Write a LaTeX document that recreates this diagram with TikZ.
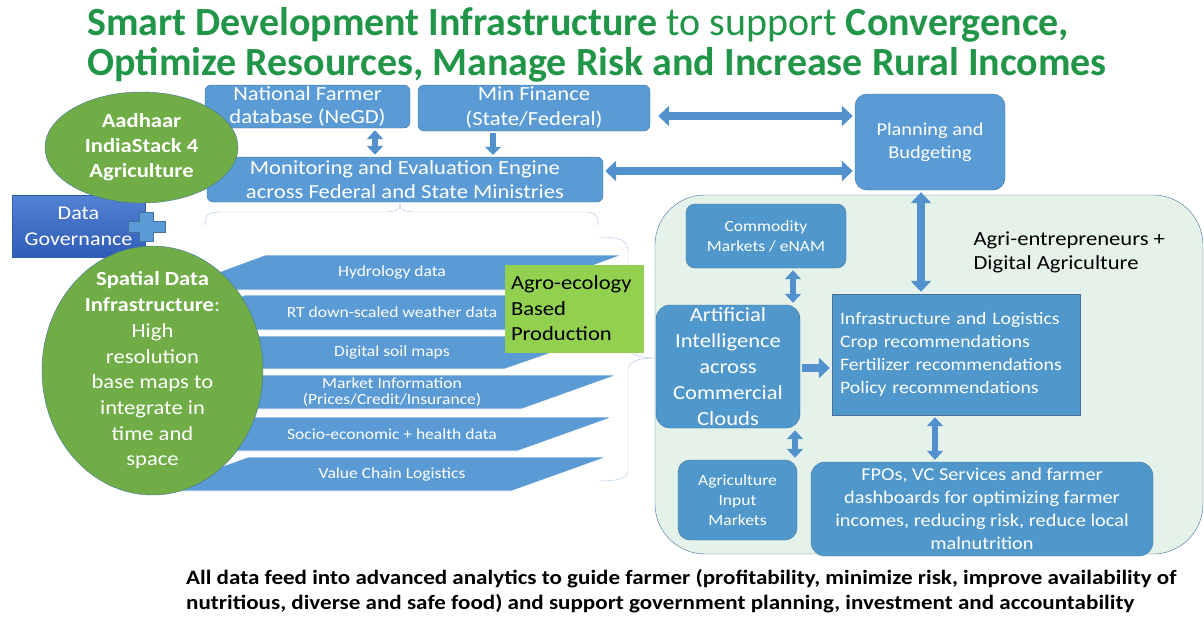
\documentclass[tikz,border=0pt]{standalone}
\usepackage{fontspec}
\setmainfont{Carlito}[FakeStretch=1.13]
\newfontfamily\titlefont{Carlito}
\usetikzlibrary{arrows.meta, calc, positioning, shapes.geometric}
\definecolor{boxblue}{RGB}{91,155,213}
\definecolor{boxline}{RGB}{65,113,156}
\definecolor{innerblue}{RGB}{80,152,203}
\definecolor{arrowblue}{RGB}{82,145,205}
\definecolor{leafgreen}{RGB}{112,173,71}
\definecolor{limegreen}{RGB}{146,208,80}
\definecolor{titlegreen}{RGB}{34,150,72}
\definecolor{palegreen}{RGB}{228,242,233}
\definecolor{bracecol}{RGB}{165,195,228}
\definecolor{govtop}{RGB}{84,130,212}
\definecolor{govbot}{RGB}{47,92,182}
\tikzset{>=latex}
\tikzset{
  bluebox/.style={draw=boxline, fill=boxblue, rounded corners=6pt, text=white, align=center, inner sep=1pt},
  innerbox/.style={bluebox, fill=innerblue},
  greenoval/.style={ellipse, draw=boxline, fill=leafgreen, inner sep=0pt},
  ovaltext/.style={text=white, align=center, inner sep=0pt},
  bartext/.style={text=white, align=center, font=\fontsize{15.5}{18}\selectfont},
  databar/.style={fill=boxblue, draw=white, line width=0.8pt},
  fatarrow/.style={draw=arrowblue, line width=8pt, -{Triangle[width=20pt,length=11pt]}, shorten <=2pt, shorten >=2pt},
  fatboth/.style={fatarrow, {Triangle[width=20pt,length=11pt]}-{Triangle[width=20pt,length=11pt]}},
  slimboth/.style={draw=arrowblue, line width=6.5pt, {Triangle[width=16pt,length=9pt]}-{Triangle[width=16pt,length=9pt]}, shorten <=2pt, shorten >=2pt},
}

\begin{document}
\begin{tikzpicture}[x=1pt, y=-1pt]
\useasboundingbox (0,0) rectangle (1204,616);
\node[anchor=base west, text=titlegreen, inner sep=0pt, font=\titlefont\fontsize{40}{38}\selectfont] (title1) at (87,35)
  {\textbf{Smart Development Infrastructure} to support \textbf{Convergence,}};
\node[anchor=base west, text=titlegreen, inner sep=0pt, font=\titlefont\fontsize{40}{38}\selectfont\bfseries] (title2) at (87,75)
  {Optimize Resources, Manage Risk and Increase Rural Incomes};

\draw[draw=boxline, fill=palegreen, rounded corners=50pt] (655,195) rectangle (1203,554);

\foreach \yt/\yb/\xl/\xr/\lbl in {255/290/265/622/Hydrology data, 295/330/245/605/RT down-scaled weather data,
    336/369/245/600/Digital soil maps, 375/409/245/617/{Market Information\\[-2pt](Prices/Credit/Insurance)},
    417/451/245/613/Socio-economic + health data, 457/491/248/607/Value Chain Logistics}{
  \filldraw[databar] (\xl,\yt) -- (\xr,\yt) -- (\xr-95,\yb) -- (\xl-95,\yb) -- cycle;
  \node[bartext] (bar\yt) at (392,{(\yt+\yb)/2}) {\lbl};
}

\node[bluebox, minimum width=205pt, minimum height=43pt, font=\fontsize{20}{23}\selectfont] (negd) at (307.5,106.5) {National Farmer\\database (NeGD)};
\node[bluebox, minimum width=232pt, minimum height=46pt, font=\fontsize{20}{25}\selectfont] (minfin) at (534,108) {Min Finance\\(State/Federal)};
\node[bluebox, minimum width=396pt, minimum height=45pt, font=\fontsize{20}{24}\selectfont] (me) at (405,179.5) {Monitoring and Evaluation Engine\\across Federal and State Ministries};
\node[bluebox, rounded corners=12pt, minimum width=150pt, minimum height=96pt, font=\fontsize{18}{23}\selectfont] (plan) at (930,142) {Planning and\\Budgeting};

\draw[bracecol] (205,226) .. controls (205,215) and (208,212) .. (220,212) -- (385,212)
  .. controls (396,212) and (400,210) .. (400,204) .. controls (400,210) and (404,212) .. (415,212)
  -- (585,212) .. controls (595,212) and (598,215) .. (598,226);
\draw[bracecol] (598,237) .. controls (620,237) and (628,240) .. (628,252) -- (628,346)
  .. controls (628,355) and (640,358) .. (655,358) .. controls (640,358) and (628,361) .. (628,370)
  -- (628,470) .. controls (628,478) and (620,481) .. (598,481);

\node[draw=limegreen, fill=limegreen, align=left, minimum width=138pt, minimum height=87pt, text width=126pt, font=\fontsize{20}{25.5}\selectfont] (agro) at (574,308.5) {Agro-ecology\\Based\\Production};

\node[innerbox, rounded corners=9pt, minimum width=160pt, minimum height=64pt, font=\fontsize{15.5}{20}\selectfont] (comm) at (766,236) {Commodity\\Markets / eNAM};
\node[innerbox, rounded corners=14pt, minimum width=144pt, minimum height=123pt, font=\fontsize{20}{26}\selectfont] (ai) at (728,366.5) {Artificial\\Intelligence\\across\\Commercial\\Clouds};
\node[innerbox, rounded corners=0pt, minimum width=248pt, minimum height=121pt, align=left, text width=232pt, font=\fontsize{17.5}{23}\selectfont] (infra) at (956,354.5) {Infrastructure and Logistics\\Crop recommendations\\Fertilizer recommendations\\Policy recommendations};
\node[innerbox, rounded corners=12pt, minimum width=119pt, minimum height=80pt, font=\fontsize{15.5}{20}\selectfont] (input) at (737.5,500) {Agriculture\\Input\\Markets};
\node[innerbox, rounded corners=14pt, minimum width=342pt, minimum height=94pt, font=\fontsize{18}{23}\selectfont] (fpo) at (982,509) {FPOs, VC Services and farmer\\dashboards for optimizing farmer\\incomes, reducing risk, reduce local\\malnutrition};
\node[anchor=west, align=left, font=\fontsize{20}{24}\selectfont] (agri) at (970,252) {Agri-entrepreneurs +\\Digital Agriculture};

\draw[slimboth] ([xshift=67.5pt]negd.south) -- ([xshift=67.5pt]negd.south |- me.north);
\draw[fatarrow, line width=6.5pt, -{Triangle[width=16pt,length=8pt]}] ([xshift=-41pt]minfin.south) -- ([xshift=-41pt]minfin.south |- me.north);
\draw[fatboth] ([yshift=-8pt,xshift=6pt]minfin.east) -- ([yshift=-8pt]minfin.east -| plan.west);
\draw[fatboth] ([yshift=8.5pt]me.east) -- ([yshift=8.5pt]me.east -| plan.west);
\draw[fatboth] ([xshift=-9pt]plan.south) -- ([xshift=-9pt]plan.south |- infra.north);
\draw[slimboth] ([xshift=27pt]comm.south) -- ([xshift=27pt]comm.south |- ai.north);
\draw[fatarrow] ([yshift=-1.5pt]ai.east) -- ([yshift=-1.5pt]ai.east -| infra.west);
\draw[slimboth] ([xshift=67pt]ai.south) -- ([xshift=67pt]ai.south |- input.north);
\draw[slimboth] ([xshift=-21pt]infra.south) -- ([xshift=-21pt]infra.south |- fpo.north);

\node[draw=govbot, top color=govtop, bottom color=govbot, text=white, align=center, minimum width=133pt, minimum height=62pt, inner sep=0pt, font=\fontsize{19.5}{26}\selectfont] (gov) at (78.5,226) {Data\\Governance};
\filldraw[fill=boxblue, draw=boxline] (128,221) -- (139,221) -- (139,212) -- (153,212) -- (153,221) -- (165,221)
  -- (165,232) -- (153,232) -- (153,241) -- (139,241) -- (139,232) -- (128,232) -- cycle;

\node[greenoval, minimum width=193pt, minimum height=111pt] (aadhaar) at (141.5,147.5) {};
\node[ovaltext, font=\fontsize{20}{25}\selectfont\bfseries] (aadhaartext) at (aadhaar) {Aadhaar\\IndiaStack 4\\Agriculture};
\node[greenoval, minimum width=221pt, minimum height=249pt] (spatial) at (152.5,370.5) {};
\node[ovaltext, font=\fontsize{20}{25.7}\selectfont] (spatialtext) at (spatial)
  {\textbf{Spatial Data}\\\textbf{Infrastructure}:\\High\\resolution\\base maps to\\integrate in\\time and\\space};

\node[anchor=base west, align=left, inner sep=0pt, font=\fontsize{20.4}{25}\selectfont\bfseries] (note) at (186,609)
  {All data feed into advanced analytics to guide farmer (profitability, minimize risk, improve availability of\\nutritious, diverse and safe food) and support government planning, investment and accountability};
\end{tikzpicture}
\end{document}
